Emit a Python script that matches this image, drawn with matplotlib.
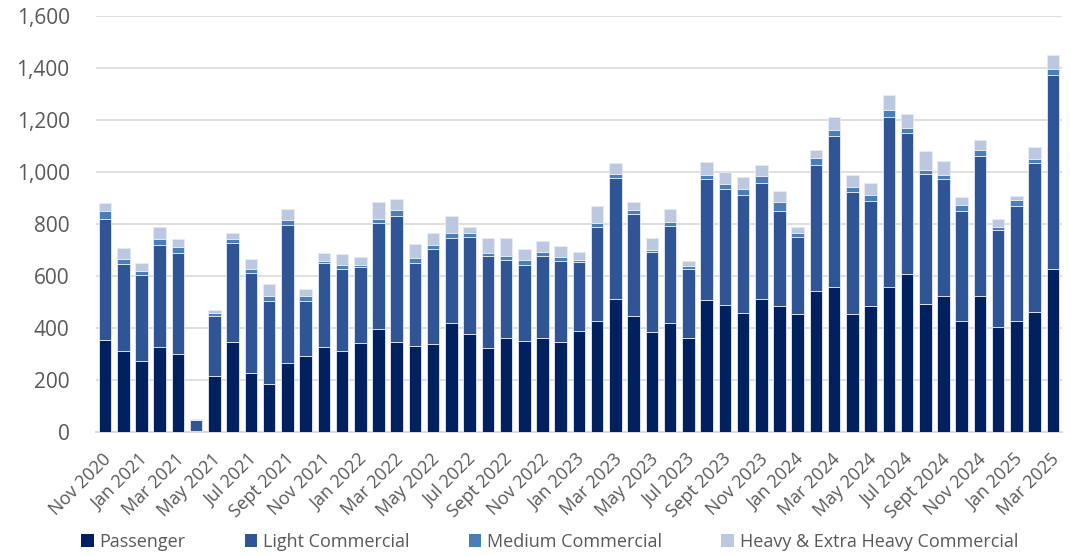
import numpy as np
import matplotlib
matplotlib.use("Agg")
from matplotlib import pyplot as plt
from matplotlib.patches import Patch
from matplotlib.transforms import ScaledTranslation

plt.rcParams["font.family"] = ["Open Sans", "DejaVu Sans"]

# monthly registrations, Nov 2020 - Mar 2025
months = [
    "Nov 2020", "Dec 2020",
    "Jan 2021", "Feb 2021", "Mar 2021", "Apr 2021", "May 2021", "Jun 2021",
    "Jul 2021", "Aug 2021", "Sept 2021", "Oct 2021", "Nov 2021", "Dec 2021",
    "Jan 2022", "Feb 2022", "Mar 2022", "Apr 2022", "May 2022", "Jun 2022",
    "Jul 2022", "Aug 2022", "Sept 2022", "Oct 2022", "Nov 2022", "Dec 2022",
    "Jan 2023", "Feb 2023", "Mar 2023", "Apr 2023", "May 2023", "Jun 2023",
    "Jul 2023", "Aug 2023", "Sept 2023", "Oct 2023", "Nov 2023", "Dec 2023",
    "Jan 2024", "Feb 2024", "Mar 2024", "Apr 2024", "May 2024", "Jun 2024",
    "Jul 2024", "Aug 2024", "Sept 2024", "Oct 2024", "Nov 2024", "Dec 2024",
    "Jan 2025", "Feb 2025", "Mar 2025",
]

passenger = [
    354, 310, 272, 328, 302, 5, 217, 345, 226, 183, 264, 292, 328, 313,
    341, 397, 347, 329, 337, 418, 378, 322, 360, 349, 360, 345,
    390, 426, 513, 446, 383, 418, 363, 506, 487, 456, 513, 483,
    455, 544, 559, 453, 483, 559, 606, 494, 522, 428, 522, 405,
    428, 463, 626,
]
light_commercial = [
    466, 335, 333, 392, 388, 40, 230, 383, 387, 321, 533, 212, 321, 315,
    292, 408, 485, 320, 366, 329, 373, 354, 302, 292, 316, 311,
    264, 361, 465, 391, 308, 376, 265, 466, 448, 456, 446, 368,
    296, 484, 581, 471, 407, 653, 545, 500, 452, 423, 538, 371,
    443, 572, 748,
]
medium_commercial = [
    30, 20, 14, 22, 22, 1, 9, 14, 15, 20, 17, 20, 7, 14,
    9, 14, 24, 21, 17, 20, 16, 14, 16, 22, 17, 18,
    9, 18, 16, 18, 10, 15, 12, 18, 20, 23, 26, 34,
    14, 27, 23, 18, 22, 28, 19, 15, 16, 23, 26, 14,
    20, 14, 21,
]
heavy_commercial = [
    32, 43, 31, 45, 30, 3, 13, 25, 36, 45, 45, 27, 31, 43,
    31, 67, 40, 54, 47, 63, 20, 55, 67, 40, 43, 41,
    29, 63, 42, 31, 45, 49, 18, 48, 45, 48, 42, 41,
    23, 31, 49, 48, 46, 55, 54, 74, 52, 31, 36, 29,
    17, 48, 55,
]

series = [
    ("Passenger", passenger, "#002060"),
    ("Light Commercial", light_commercial, "#2F5597"),
    ("Medium Commercial", medium_commercial, "#4A7EBB"),
    ("Heavy & Extra Heavy Commercial", heavy_commercial, "#BCC8E0"),
]

fig = plt.figure(figsize=(10.71, 5.56), dpi=100)
ax = fig.add_axes([0.0896, 0.223, 0.9020, 0.748])

x = np.arange(len(months))
bottom = np.zeros(len(months))
for name, values, color in series:
    values = np.array(values, dtype=float)
    ax.bar(x, values, width=0.69, bottom=bottom, color=color,
           edgecolor="#E6EBF3", linewidth=0.6, zorder=3, label=name)
    bottom += values

ax.set_xlim(-0.5, len(months) - 0.5)
ax.set_ylim(0, 1600)
ax.set_yticks(np.arange(0, 1601, 200))
ax.set_yticklabels([f"{v:,}" for v in range(0, 1601, 200)])
ax.yaxis.grid(True, color="#D9D9D9", linewidth=1.2, zorder=0)
ax.set_axisbelow(True)

for side in ["left", "right", "top"]:
    ax.spines[side].set_visible(False)
ax.spines["bottom"].set_color("#D9D9D9")
ax.spines["bottom"].set_linewidth(1.4)

ax.tick_params(axis="y", length=0, pad=19, labelsize=15, labelcolor="#595959")
ax.tick_params(axis="x", length=0, pad=13, labelsize=13, labelcolor="#595959")

ax.set_xticks(x[::2])
ax.set_xticklabels(months[::2], rotation=45, ha="right", rotation_mode="anchor")
shift = ScaledTranslation(-2 / 72, 0, fig.dpi_scale_trans)
for label in ax.get_xticklabels():
    label.set_transform(label.get_transform() + shift)

handles = [Patch(facecolor=c, edgecolor="none", label=n) for n, _, c in series]
fig.legend(handles=handles, loc="center", bbox_to_anchor=(0.513, 0.026),
           ncol=4, frameon=False, fontsize=13, labelcolor="#595959",
           handlelength=0.7, handleheight=0.7, handletextpad=0.3,
           columnspacing=3.3)

fig.savefig("out.png", dpi=100)
